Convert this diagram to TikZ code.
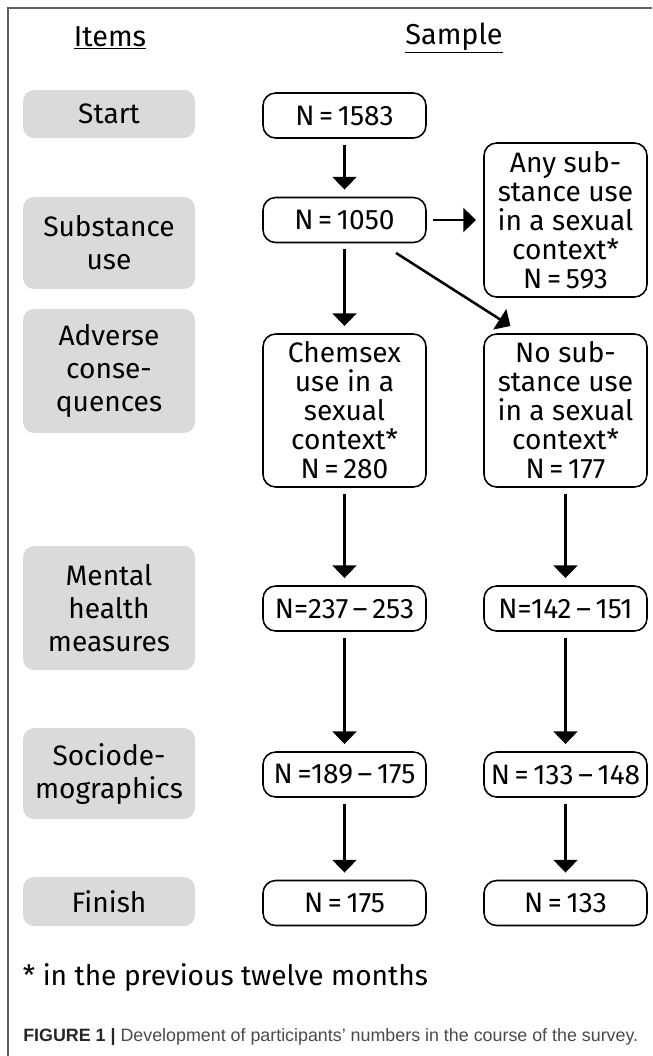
\documentclass[tikz,border=0pt]{standalone}
\usepackage{fontspec}
\setmainfont{Fira Sans}
\newfontfamily\capfont{Liberation Sans}
\usetikzlibrary{arrows.meta,calc}
\definecolor{itemgray}{HTML}{DADADA}
\definecolor{framegray}{HTML}{606060}
\definecolor{captext}{HTML}{4A4A4A}

\begin{document}
\begin{tikzpicture}[
  item/.style={fill=itemgray, rounded corners=8pt, minimum width=4.3cm, align=center, inner sep=0pt, font=\fontsize{20}{23.5}\selectfont},
  samp/.style={draw, rounded corners=9pt, line width=1.1pt, minimum width=4.075cm, minimum height=1.125cm, align=center, inner sep=0pt, font=\fontsize{20}{20.6}\selectfont},
  arr/.style={-{Triangle[width=17pt,length=9pt]}, line width=1.8pt, shorten <=0.15cm, shorten >=0.18cm}
]
  \useasboundingbox (0,0) rectangle (16.3,-26.4);
  \draw[framegray, line width=1.3pt] (16.3,-0.2) -- (0.19,-0.2) -- (0.19,-26.4);

  \node[font=\fontsize{20.5}{22}\selectfont] (hitems) at (2.75,-0.95) {\underline{Items}};
  \node[font=\fontsize{20.5}{22}\selectfont] (hsample) at (11.35,-0.95) {\underline{Sample}};

  \node[item, minimum height=1.2cm] (istart) at (2.725,-2.85) {Start};
  \node[item, minimum height=2.3cm] (isubst) at (2.725,-6.075) {Substance\\use};
  \node[item, minimum height=3.1cm] (iadverse) at (2.725,-9.275) {Adverse\\conse-\\quences};
  \node[item, minimum height=3.1cm] (imental) at (2.725,-15.2) {Mental\\health\\measures};
  \node[item, minimum height=2.275cm] (isocio) at (2.725,-19.34) {Sociode-\\mographics};
  \node[item, minimum height=1.225cm] (ifinish) at (2.725,-22.54) {Finish};

  \node[samp] (nstart) at (8.6125,-2.8875) {N\,=\,1583};
  \node[samp] (nsubst) at (8.6125,-5.5) {N\,=\,1050};
  \node[samp, minimum height=3.85cm] (nany) at (14.1375,-5.5) {Any sub-\\stance use\\in a sexual\\context*\\N\,=\,593};
  \node[samp, minimum height=3.825cm] (nchem) at (8.6125,-10.2625) {Chemsex\\use in a\\sexual\\context*\\N\,=\,280};
  \node[samp, minimum height=3.825cm] (nnosub) at (14.1375,-10.2625) {No sub-\\stance use\\in a sexual\\context*\\N\,=\,177};
  \node[samp] (cmental) at (8.6125,-15.2125) {N=237\,–\,253};
  \node[samp] (nmental) at (14.1375,-15.2125) {N=142\,–\,151};
  \node[samp] (csocio) at (8.6125,-19.3625) {N\,=189\,–\,175};
  \node[samp] (nsocio) at (14.1375,-19.3625) {N\,=\,133\,–\,148};
  \node[samp] (cfinish) at (8.6125,-22.575) {N\,=\,175};
  \node[samp] (nfinish) at (14.1375,-22.575) {N\,=\,133};

  \coordinate (dtip) at ($(nnosub.north west)+(0.68,0.18)$);

  \draw[arr] (nstart) -- (nsubst);
  \draw[arr] (nsubst) -- (nany);
  \draw[arr] (nsubst) -- (nchem);
  \draw[arr, shorten <=0.45cm, shorten >=0pt] (nsubst) -- (dtip);
  \draw[arr] (nchem) -- (cmental);
  \draw[arr] (nnosub) -- (nmental);
  \draw[arr] (cmental) -- (csocio);
  \draw[arr] (nmental) -- (nsocio);
  \draw[arr] (csocio) -- (cfinish);
  \draw[arr] (nsocio) -- (nfinish);

  \node[anchor=west, font=\fontsize{20}{22}\selectfont] (fnote) at (0.45,-24.45) {* in the previous twelve months};
  \node[anchor=west, inner sep=0pt, font=\capfont\fontsize{12.7}{15}\selectfont, text=captext] (caption) at (0.575,-25.925) {\textbf{\color{black!85}FIGURE 1 |} Development of participants’ numbers in the course of the survey.};
\end{tikzpicture}
\end{document}
